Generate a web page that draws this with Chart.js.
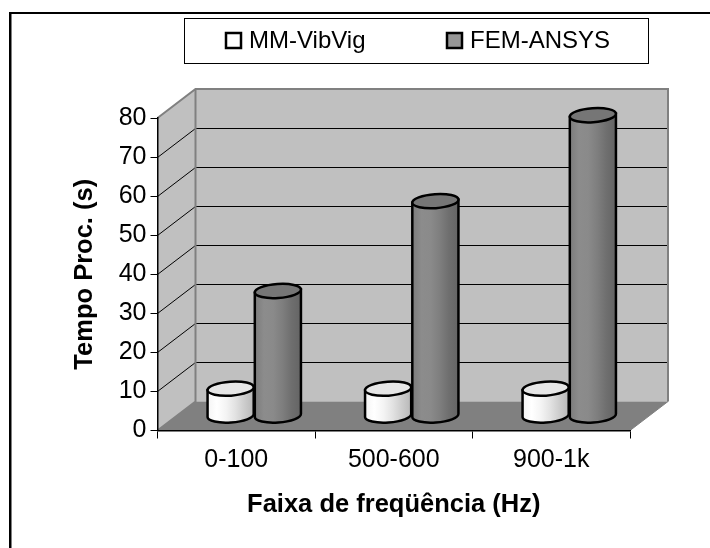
<!DOCTYPE html>
<html>
<head>
<meta charset="utf-8">
<title>Tempo de processamento</title>
<script src="https://cdn.jsdelivr.net/npm/chart.js@4/dist/chart.umd.min.js"></script>
<style>
  html, body { margin: 0; padding: 0; background: #fff; }
  #wrap { position: relative; width: 710px; height: 548px; }
</style>
</head>
<body>
<div id="wrap"><canvas id="chart" width="710" height="548"></canvas></div>
<script>
// data
const categories = ['0-100', '500-600', '900-1k'];
const mmVibVig = [7, 7, 7];
const femAnsys = [32, 55, 77];
const yTicks = [0, 10, 20, 30, 40, 50, 60, 70, 80];

const FONT = '"Liberation Sans", Arial, sans-serif';
const DEPTH_X = 38, DEPTH_Y = 29;   // profundidade do "3D" do Excel
const WALL = '#c0c0c0', FLOOR = '#808080';

// moldura (so topo e esquerda aparecem no recorte), paredes e piso
const wallsPlugin = {
  id: 'walls',
  beforeDraw(chart) {
    const ctx = chart.ctx, y = chart.scales.y;
    const { left: l, right: r, top: t, bottom: b } = chart.chartArea;
    const dx = DEPTH_X, dy = DEPTH_Y;
    ctx.save();
    ctx.fillStyle = '#fff';
    ctx.fillRect(0, 0, chart.width, chart.height);
    ctx.fillStyle = '#808080';
    ctx.fillRect(11, 14, 1, chart.height - 14);
    ctx.fillStyle = '#000';
    ctx.fillRect(9, 12, chart.width - 9, 2);
    ctx.fillRect(9, 12, 2, chart.height - 12);

    ctx.fillStyle = WALL;
    ctx.fillRect(l + dx, t - dy, r - l, b - t);
    ctx.beginPath();
    ctx.moveTo(l, t); ctx.lineTo(l + dx, t - dy); ctx.lineTo(l + dx, b - dy); ctx.lineTo(l, b);
    ctx.closePath();
    ctx.fill();
    ctx.fillStyle = FLOOR;
    ctx.beginPath();
    ctx.moveTo(l, b); ctx.lineTo(r, b); ctx.lineTo(r + dx, b - dy); ctx.lineTo(l + dx, b - dy);
    ctx.closePath();
    ctx.fill();

    // linhas de grade
    ctx.strokeStyle = '#000';
    ctx.lineWidth = 1;
    y.ticks.forEach(tick => {
      if (tick.value === 0 || tick.value === yTicks[yTicks.length - 1]) return;
      const py = Math.round(y.getPixelForValue(tick.value)) + 0.5;
      ctx.beginPath();
      ctx.moveTo(l, py); ctx.lineTo(l + dx, py - dy); ctx.lineTo(r + dx, py - dy);
      ctx.stroke();
    });

    // contorno cinza das paredes
    ctx.strokeStyle = '#808080';
    ctx.lineWidth = 2;
    ctx.beginPath();
    ctx.moveTo(l, t); ctx.lineTo(l + dx, t - dy); ctx.lineTo(r + dx, t - dy); ctx.lineTo(r + dx, b - dy);
    ctx.moveTo(l + dx, t - dy); ctx.lineTo(l + dx, b - dy); ctx.lineTo(l, b);
    ctx.stroke();
    ctx.lineWidth = 1;
    ctx.beginPath();
    ctx.moveTo(r, b); ctx.lineTo(r + dx, b - dy);
    ctx.stroke();
    ctx.restore();
  },
  // as barras normais nao sao desenhadas, so os cilindros
  beforeDatasetDraw() {
    return false;
  },
  afterDatasetsDraw(chart) {
    chart.data.datasets.forEach((ds, i) => {
      chart.getDatasetMeta(i).data.forEach(bar => drawCylinder(chart.ctx, bar, ds.shades, ds.topColor));
    });
  },
  afterDraw(chart) {
    drawLegend(chart);
  }
};

function drawCylinder(ctx, bar, shades, topColor) {
  const rx = bar.width / 2 - 0.5, ry = 7, tilt = -0.07;
  const cx = bar.x + DEPTH_X / 2 - 1;
  const top = bar.y - DEPTH_Y / 2, base = bar.base - DEPTH_Y / 2;
  const ex = rx * Math.cos(tilt), ey = rx * Math.sin(tilt);

  const grad = ctx.createLinearGradient(cx - rx, 0, cx + rx, 0);
  shades.forEach((c, i) => grad.addColorStop(i / (shades.length - 1), c));

  ctx.save();
  ctx.lineWidth = 2.5;
  ctx.strokeStyle = '#000';
  // corpo
  ctx.beginPath();
  ctx.moveTo(cx - ex, top - ey);
  ctx.lineTo(cx - ex, base - ey);
  ctx.ellipse(cx, base, rx, ry, tilt, Math.PI, 0, true);
  ctx.lineTo(cx + ex, top + ey);
  ctx.closePath();
  ctx.fillStyle = grad;
  ctx.fill();
  ctx.stroke();
  // tampa
  ctx.beginPath();
  ctx.ellipse(cx, top, rx, ry, tilt, 0, Math.PI * 2);
  ctx.fillStyle = topColor;
  ctx.fill();
  ctx.stroke();
  ctx.restore();
}

// legenda do Excel: caixa larga acima do grafico, fora do centro
function drawLegend(chart) {
  const ctx = chart.ctx;
  const starts = [225, 446];
  ctx.save();
  ctx.strokeStyle = '#000';
  ctx.lineWidth = 1;
  ctx.strokeRect(184.5, 18.5, 464, 45);
  ctx.font = '24px ' + FONT;
  ctx.textBaseline = 'middle';
  chart.data.datasets.forEach((ds, i) => {
    ctx.fillStyle = ds.backgroundColor;
    ctx.lineWidth = 2.5;
    ctx.fillRect(starts[i] + 1, 33, 15, 15);
    ctx.strokeRect(starts[i] + 1, 33, 15, 15);
    ctx.fillStyle = '#000';
    ctx.fillText(ds.label, starts[i] + 24, 41);
  });
  ctx.restore();
}

new Chart(document.getElementById('chart'), {
  type: 'bar',
  data: {
    labels: categories,
    datasets: [
      {
        label: 'MM-VibVig',
        data: mmVibVig,
        backgroundColor: '#ffffff',
        shades: ['#f4f4f4', '#ffffff', '#f4f4f4', '#e2e2e2', '#cccccc', '#b8b8b8'],
        topColor: '#e6e6e6'
      },
      {
        label: 'FEM-ANSYS',
        data: femAnsys,
        backgroundColor: '#969696',
        shades: ['#7c7c7c', '#8c8c8c', '#8a8a8a', '#7e7e7e', '#6e6e6e', '#646464'],
        topColor: '#767676'
      }
    ]
  },
  options: {
    responsive: false,
    animation: false,
    categoryPercentage: 0.6,
    barPercentage: 1,
    layout: { padding: { left: 0, right: 80, top: 118, bottom: 0 } },
    plugins: {
      tooltip: { enabled: false },
      legend: { display: false }
    },
    scales: {
      x: {
        afterFit(axis) { axis.height = 117.5; },
        grid: { drawOnChartArea: false, tickLength: 8, color: '#000', offset: true },
        border: { color: '#000', width: 1.5 },
        ticks: { color: '#000', font: { family: FONT, size: 25 }, padding: 7, maxRotation: 0 },
        title: {
          display: true,
          text: 'Faixa de freqüência (Hz)',
          color: '#000',
          font: { family: FONT, size: 25.5, weight: 'bold' },
          padding: { top: 0, bottom: 28 }
        }
      },
      y: {
        min: 0,
        max: 80,
        afterFit(axis) { axis.width = 157.5; },
        afterBuildTicks(axis) {
          axis.ticks = yTicks.map(v => ({ value: v }));
        },
        grid: { drawOnChartArea: false, tickLength: 7, color: '#000' },
        border: { color: '#000', width: 1.5 },
        ticks: { color: '#000', font: { family: FONT, size: 25 }, padding: 4 },
        title: {
          display: true,
          text: 'Tempo Proc. (s)',
          color: '#000',
          font: { family: FONT, size: 25.5, weight: 'bold' },
          padding: { top: 70, bottom: 0 }
        }
      }
    }
  },
  plugins: [wallsPlugin]
});
</script>
</body>
</html>
